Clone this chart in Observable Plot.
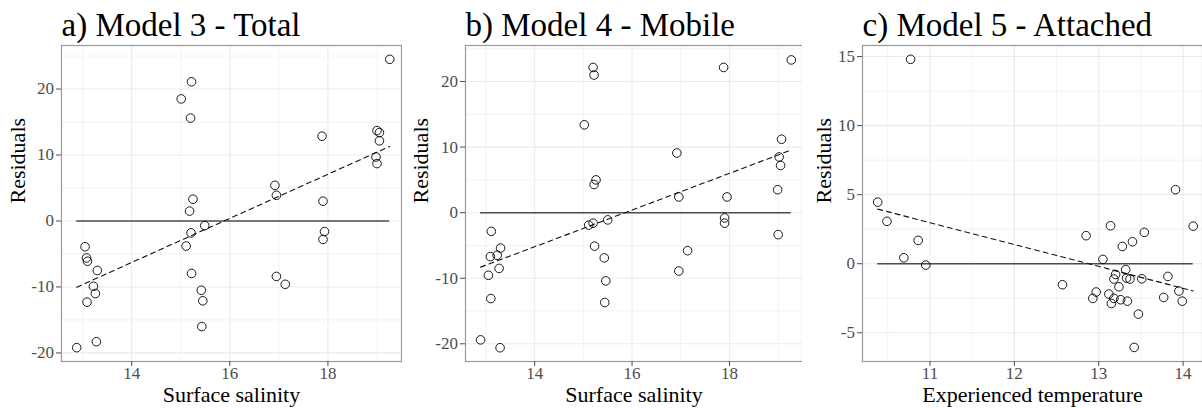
<!DOCTYPE html>
<html>
<head>
<meta charset="utf-8">
<script src="https://cdn.jsdelivr.net/npm/d3@7"></script>
<script src="https://cdn.jsdelivr.net/npm/@observablehq/plot@0.6"></script>
<style>
  body { margin: 0; background: #fff; }
  #fig { display: flex; width: 1202px; height: 408px; overflow: hidden; }
  #fig svg { flex: none; }
</style>
</head>
<body>
<div id="fig"></div>
<script>
// Panel a) Model 3 - Total: residuals against surface salinity
const salinityA = [19.26, 15.22, 15.01, 15.20, 17.88, 19.00, 19.05, 19.05, 18.98, 19.00,
  16.92, 16.95, 17.90, 15.25, 15.18, 15.21, 15.49, 15.11, 15.22, 15.42,
  15.45, 15.43, 16.95, 17.13, 17.93, 17.90, 13.05, 13.08, 13.10, 13.30,
  13.22, 13.26, 13.09, 13.28, 12.88];
const residualsA = [24.5, 21.1, 18.5, 15.6, 12.85, 13.7, 13.4, 12.15, 9.7, 8.7,
  5.4, 3.9, 3.0, 3.3, 1.5, -1.8, -0.7, -3.8, -7.95, -10.5,
  -12.1, -16.0, -8.4, -9.6, -1.6, -2.8, -3.9, -5.6, -6.1, -7.5,
  -9.9, -11.0, -12.3, -18.3, -19.2];

// Panel b) Model 4 - Mobile: residuals against surface salinity
const salinityB = [19.27, 15.20, 15.22, 15.02, 17.88, 19.07, 19.02, 19.05, 18.99, 16.92,
  16.96, 17.95, 15.26, 15.22, 15.11, 15.20, 15.50, 15.23, 15.43, 15.46,
  15.44, 17.90, 17.90, 19.00, 17.14, 16.96, 13.11, 13.30, 13.23, 13.09,
  13.27, 13.05, 13.10, 12.89, 13.29];
const residualsB = [23.3, 22.15, 21.0, 13.4, 22.15, 11.2, 8.5, 7.2, 3.5, 9.1,
  2.4, 2.4, 5.0, 4.3, -1.9, -1.6, -1.1, -5.1, -6.9, -10.4,
  -13.7, -0.8, -1.6, -3.35, -5.8, -8.9, -2.85, -5.4, -6.5, -6.7,
  -8.5, -9.55, -13.1, -19.4, -20.6];

// Panel c) Model 5 - Attached: residuals against experienced temperature
const temperatureC = [10.77, 13.91, 10.38, 10.49, 10.86, 10.69, 10.95, 12.57, 12.85, 13.14,
  13.54, 14.12, 13.40, 13.28, 13.05, 13.32, 13.20, 13.18, 13.33, 13.37,
  13.51, 13.82, 13.24, 12.97, 13.12, 12.93, 13.18, 13.15, 13.26, 13.34,
  13.77, 13.95, 13.99, 13.47, 13.42];
const residualsC = [14.8, 5.36, 4.46, 3.07, 1.69, 0.43, -0.1, -1.52, 2.03, 2.75,
  2.27, 2.72, 1.59, 1.25, 0.31, -0.43, -0.78, -1.11, -1.04, -1.11,
  -1.09, -0.92, -1.67, -2.05, -2.2, -2.51, -2.51, -2.88, -2.61, -2.71,
  -2.44, -1.98, -2.71, -3.65, -6.06];

// Titles and axis labels
const titles = ["a) Model 3 - Total", "b) Model 4 - Mobile", "c) Model 5 - Attached"];
const xLabels = ["Surface salinity", "Surface salinity", "Experienced temperature"];
const yLabel = "Residuals";

// Tick values (major labelled, minor grid only)
const salinityTicks = [14, 16, 18];
const salinityMinor = [13, 15, 17, 19];
const residualTicksAB = [-20, -10, 0, 10, 20];
const residualMinorAB = [-15, -5, 5, 15, 25];
const temperatureTicks = [11, 12, 13, 14];
const temperatureMinor = [10.5, 11.5, 12.5, 13.5];
const residualTicksC = [-5, 0, 5, 10, 15];
const residualMinorC = [-2.5, 2.5, 7.5, 12.5];

const serif = "'Liberation Serif', 'Times New Roman', Times, serif";

function panel(o) {
  const data = o.xs.map((x, i) => ({x, y: o.ys[i]}));
  const zero = [{y: 0, x1: d3.min(o.xs), x2: d3.max(o.xs)}];
  const grid = {stroke: "#ebebeb", strokeOpacity: 1};
  return Plot.plot({
    width: o.width,
    height: 408,
    marginTop: 45,
    marginBottom: 47,
    marginLeft: o.marginLeft,
    marginRight: o.marginRight,
    style: {fontFamily: serif, background: "white", overflow: "visible"},
    x: {domain: o.xDomain},
    y: {domain: o.yDomain},
    marks: [
      Plot.gridX(o.xMinor, {...grid, strokeWidth: 0.6}),
      Plot.gridY(o.yMinor, {...grid, strokeWidth: 0.6}),
      Plot.gridX(o.xMajor, {...grid, strokeWidth: 1.1}),
      Plot.gridY(o.yMajor, {...grid, strokeWidth: 1.1}),
      Plot.ruleY(zero, {y: "y", x1: "x1", x2: "x2", stroke: "#4d4d4d", strokeWidth: 1.5}),
      Plot.linearRegressionY(data, {x: "x", y: "y", ci: 0, stroke: "#111", strokeWidth: 1.1, strokeDasharray: "5,4"}),
      Plot.dot(data, {x: "x", y: "y", r: 4.3, stroke: "black", strokeWidth: 0.9, fill: "none"}),
      Plot.frame({stroke: "#999", strokeWidth: 1.2}),
      Plot.axisX(o.xMajor, {tickSize: 5, tickPadding: 0, fontSize: 17, fill: "#4d4d4d", stroke: "#4d4d4d", label: null, tickFormat: d => String(d)}),
      Plot.axisY(o.yMajor, {tickSize: 5, tickPadding: 2.5, fontSize: 17, fill: "#4d4d4d", stroke: "#4d4d4d", label: null, tickFormat: d => String(d)}),
      Plot.text([o.title], {frameAnchor: "top-left", textAnchor: "start", lineAnchor: "bottom", dy: -10, fontSize: 33, fill: "black"}),
      Plot.text([o.xLabel], {frameAnchor: "bottom", lineAnchor: "bottom", dy: 40, fontSize: 22, fill: "black"}),
      Plot.text([yLabel], {frameAnchor: "left", rotate: -90, lineAnchor: "bottom", dx: o.yLabelDx, fontSize: 22, fill: "black"})
    ]
  });
}

const fig = document.getElementById("fig");
fig.append(panel({
  title: titles[0], xLabel: xLabels[0], xs: salinityA, ys: residualsA,
  width: 402, marginLeft: 61, marginRight: 1,
  xDomain: [12.57, 19.5], yDomain: [-21.3, 26.6],
  xMajor: salinityTicks, xMinor: salinityMinor, yMajor: residualTicksAB, yMinor: residualMinorAB,
  yLabelDx: -37
}));
fig.append(panel({
  title: titles[1], xLabel: xLabels[1], xs: salinityB, ys: residualsB,
  width: 400, marginLeft: 63, marginRight: 0,
  xDomain: [12.58, 19.5], yDomain: [-22.7, 25.5],
  xMajor: salinityTicks, xMinor: salinityMinor, yMajor: residualTicksAB, yMinor: residualMinorAB,
  yLabelDx: -38
}));
fig.append(panel({
  title: titles[2], xLabel: xLabels[2], xs: temperatureC, ys: residualsC,
  width: 400, marginLeft: 60, marginRight: 0,
  xDomain: [10.2, 14.23], yDomain: [-7.08, 15.8],
  xMajor: temperatureTicks, xMinor: temperatureMinor, yMajor: residualTicksC, yMinor: residualMinorC,
  yLabelDx: -32
}));
</script>
</body>
</html>
